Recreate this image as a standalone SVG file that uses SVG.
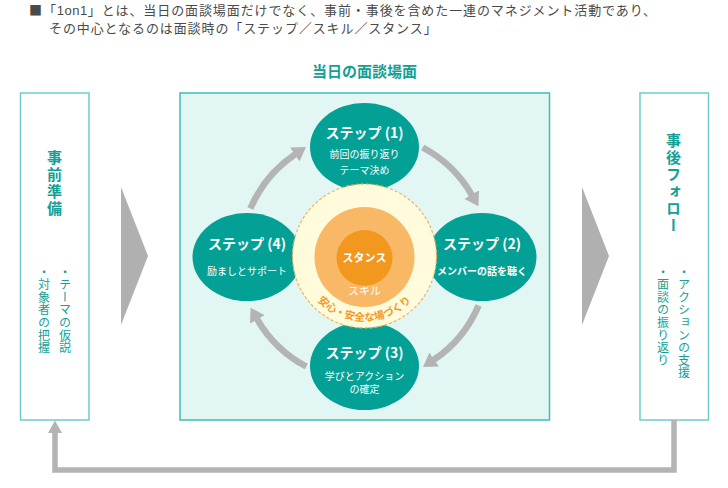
<svg xmlns="http://www.w3.org/2000/svg" width="728" height="488" viewBox="0 0 728 488">
<defs>
<style>
.jp{font-family:'Noto Sans CJK JP','Noto Sans',sans-serif;}
.hd{font-size:13px;fill:#4a4a4a;letter-spacing:0.9px;}
.side{fill:#ffffff;stroke:#6dcdc5;stroke-width:1.5;}
.vt{writing-mode:vertical-rl;text-orientation:upright;fill:#12a096;}
.vtitle{font-size:15px;font-weight:bold;letter-spacing:2px;}
.vsub{font-size:12px;letter-spacing:0.6px;}
.step{fill:#03a096;}
.st{fill:#ffffff;font-size:14px;font-weight:bold;text-anchor:middle;}
.ss{fill:#ffffff;font-size:10px;text-anchor:middle;}
.loop{fill:none;stroke:#b4b4b4;stroke-width:6.5;}
.chev{fill:#b0b0b0;}
</style>
<marker id="ah" markerUnits="userSpaceOnUse" markerWidth="14" markerHeight="18" viewBox="0 -9 14 18" refX="0.5" refY="0" orient="auto">
<path d="M0,-8.5 L13.5,0 L0,8.5 z" fill="#b4b4b4"/>
</marker>
<path id="arcText" d="M303.4,278.2 A65,65 0 0 0 425.6,278.2"/>
</defs>
<rect width="728" height="488" fill="#ffffff"/>

<g id="header" class="jp hd">
<text x="29" y="15">■「<tspan font-family="'Liberation Sans',sans-serif" letter-spacing="0.5">1on1</tspan>」とは、当日の面談場面だけでなく、事前・事後を含めた一連のマネジメント活動であり、</text>
<text x="49" y="33">その中心となるのは面談時の「ステップ／スキル／スタンス」</text>
</g>

<g id="title">
<text class="jp" x="364.5" y="77" text-anchor="middle" font-size="15" font-weight="bold" fill="#12a096">当日の面談場面</text>
</g>

<g id="pre">
<rect class="side" x="20.5" y="93" width="68.5" height="327"/>
<text class="jp vt vtitle" x="54.5" y="150">事前準備</text>
<text class="jp vt vsub" x="65" y="266">・テーマの仮説</text>
<text class="jp vt vsub" x="44" y="266">・対象者の把握</text>
</g>

<g id="post">
<rect class="side" x="640" y="93" width="68.5" height="327"/>
<text class="jp vt vtitle" x="673.5" y="133">事後フォロー</text>
<text class="jp vt vsub" x="684" y="266">・アクションの支援</text>
<text class="jp vt vsub" x="663" y="266">・面談の振り返り</text>
</g>

<g id="session">
<rect x="180" y="93" width="369.5" height="327" fill="#e2f6f3" stroke="#3fbeb3" stroke-width="1.5"/>
</g>

<g id="connectors">
<polygon class="chev" points="121,187 148,256 121,325"/>
<polygon class="chev" points="582,187 609,256 582,325"/>
<path d="M674,420 V470 H55 V432" fill="none" stroke="#b4b4b4" stroke-width="5.5"/>
<polygon points="48,433 55,420.5 62,433" fill="#b4b4b4"/>
<path class="loop" marker-end="url(#ah)" d="M250.4,208.6 A124,124 0 0 1 295.2,154.2"/>
<path class="loop" marker-end="url(#ah)" d="M422.7,147.5 A124,124 0 0 1 471.9,195.0"/>
<path class="loop" marker-end="url(#ah)" d="M478.6,305.4 A124,124 0 0 1 433.8,359.8"/>
<path class="loop" marker-end="url(#ah)" d="M306.3,366.5 A124,124 0 0 1 257.1,319.0"/>
</g>

<g id="step1">
<ellipse class="step" cx="364.5" cy="147" rx="54.5" ry="44"/>
<text class="jp st" x="364.5" y="138">ステップ (1)</text>
<text class="jp ss" x="364.5" y="158">前回の振り返り</text>
<text class="jp ss" x="364.5" y="174">テーマ決め</text>
</g>
<g id="step2">
<ellipse class="step" cx="482" cy="257" rx="54.5" ry="44"/>
<text class="jp st" x="482" y="249">ステップ (2)</text>
<text class="jp ss" x="482" y="274.5" font-weight="bold">メンバーの話を聴く</text>
</g>
<g id="step3">
<ellipse class="step" cx="364.5" cy="366" rx="54.5" ry="44"/>
<text class="jp st" x="364.5" y="358">ステップ (3)</text>
<text class="jp ss" x="364.5" y="379.5">学びとアクション</text>
<text class="jp ss" x="364.5" y="393">の確定</text>
</g>
<g id="step4">
<ellipse class="step" cx="247" cy="257" rx="54.5" ry="44"/>
<text class="jp st" x="247" y="249">ステップ (4)</text>
<text class="jp ss" x="247" y="274.5">励ましとサポート</text>
</g>

<g id="core">
<circle cx="364.5" cy="256" r="72" fill="#fffbdb" stroke="#f4b25e" stroke-width="1.2" stroke-dasharray="3,2"/>
<circle cx="364.5" cy="257" r="50" fill="#f9b866"/>
<circle cx="364.5" cy="258" r="28" fill="#f3981f"/>
<text class="jp" x="364.5" y="262" text-anchor="middle" font-size="11" font-weight="bold" fill="#ffffff">スタンス</text>
<text class="jp" x="364.5" y="295" text-anchor="middle" font-size="11" fill="#ffffff">スキル</text>
<text class="jp" font-size="10.5" font-weight="bold" fill="#f29a2a"><textPath href="#arcText" startOffset="50%" text-anchor="middle">安心・安全な場づくり</textPath></text>
</g>
</svg>
